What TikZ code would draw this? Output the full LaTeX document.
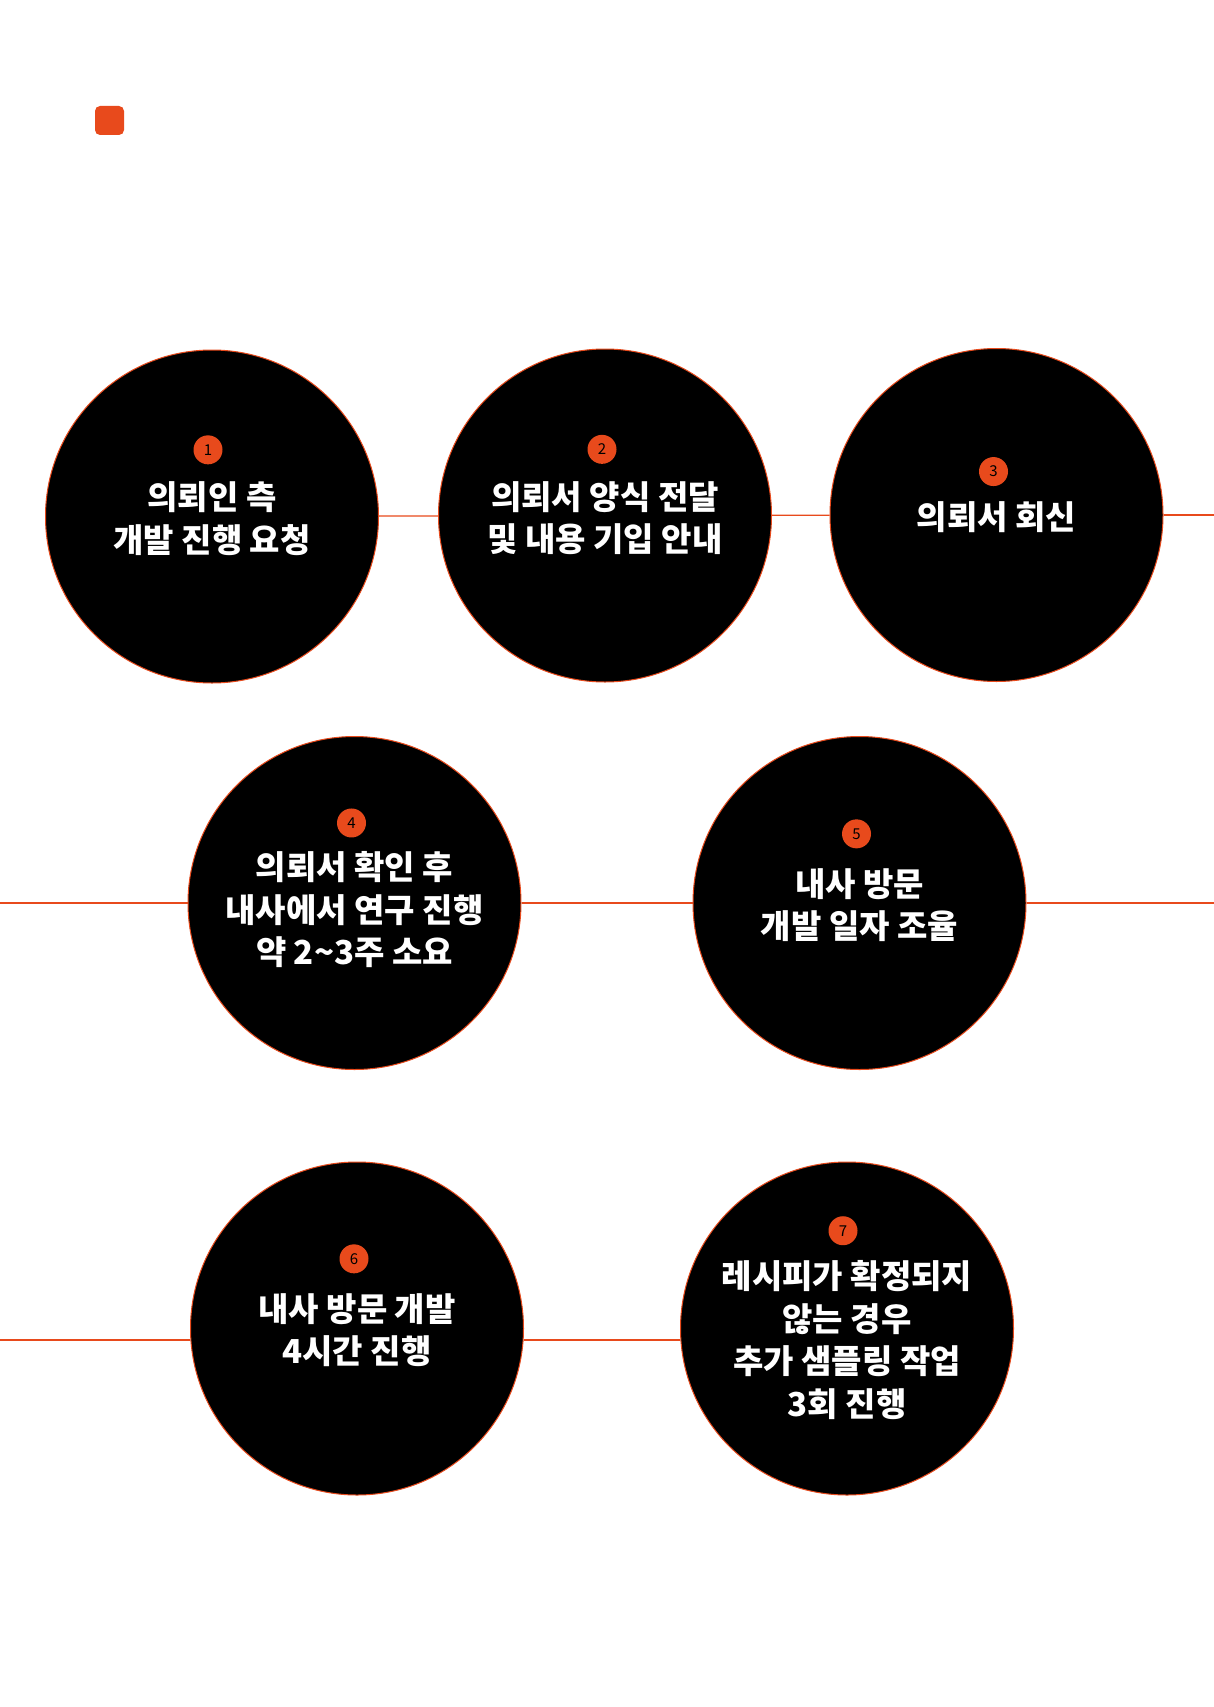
\documentclass[tikz,border=0pt]{standalone}
\usepackage{fontspec}
\newfontfamily\kr{Noto Sans CJK KR}
\usepackage{tikz}
\usetikzlibrary{positioning}
\definecolor{Flame}{HTML}{E84A1C}

\begin{document}
\begin{tikzpicture}[x=1pt,y=-1pt,
  stepdot/.style={circle,draw=Flame,line width=1pt,fill=black,minimum size=333pt,inner sep=0pt},
  steptext/.style={align=center,text=white,inner sep=0pt,font=\kr\bfseries\fontsize{33}{42.5}\selectfont},
  badge/.style={circle,fill=Flame,minimum size=29pt,inner sep=0pt,text=black,font=\kr\fontsize{15}{15}\selectfont},
  tag/.style={fill=Flame,rounded corners=5pt,minimum size=29pt,inner sep=0pt},
  link/.style={draw=Flame,line width=1.2pt}
]
\fill[white] (0,0) rectangle (1214,1707);
\useasboundingbox (0,0) rectangle (1214,1707);
\node[tag] (logo) at (109.5,120.5) {};
% row 1
\node[stepdot] (c1) at (212,516.5) {};
\node[stepdot] (c2) at (605,515.5) {};
\node[stepdot] (c3) at (996.5,515) {};
\node[steptext] (t1) at (212,518.5) {의뢰인 측\\개발 진행 요청};
\node[steptext] (t2) at (605,518) {의뢰서 양식 전달\\및 내용 기입 안내};
\node[steptext] (t3) at (996.5,517) {의뢰서 회신};
\node[badge,above=17pt of t1,xshift=-4pt] (n1) {1};
\node[badge,above=17pt of t2,xshift=-3pt] (n2) {2};
\node[badge,above=15pt of t3,xshift=-3pt] (n3) {3};
\coordinate (r1) at (1214,515);
\draw[link] (c1) -- (c2);
\draw[link] (c2) -- (c3);
\draw[link] (c3) -- (r1);
% row 2
\node[stepdot] (c4) at (354.5,903) {};
\node[stepdot] (c5) at (859.5,903) {};
\node[steptext] (t4) at (354.5,910) {의뢰서 확인 후\\내사에서 연구 진행\\약 2\textasciitilde3주 소요};
\node[steptext] (t5) at (859.5,905) {내사 방문\\개발 일자 조율};
\node[badge,above=14pt of t4,xshift=-3pt] (n4) {4};
\node[badge,above=19.5pt of t5,xshift=-3pt] (n5) {5};
\coordinate (l2) at (0,903);
\coordinate (r2) at (1214,903);
\draw[link] (l2) -- (c4);
\draw[link] (c4) -- (c5);
\draw[link] (c5) -- (r2);
% row 3
\node[stepdot] (c6) at (357,1328.5) {};
\node[stepdot] (c7) at (847,1328.5) {};
\node[steptext] (t6) at (357,1330) {내사 방문 개발\\4시간 진행};
\node[steptext] (t7) at (847,1340) {레시피가 확정되지\\않는 경우\\추가 샘플링 작업\\3회 진행};
\node[badge,above=19.5pt of t6,xshift=-3pt] (n6) {6};
\node[badge,above=15pt of t7,xshift=-4pt] (n7) {7};
\coordinate (l3) at (0,1340);
\draw[link] (l3) -- ([yshift=-11.5pt]c6.west);
\draw[link] ([yshift=-11.5pt]c6.east) -- ([yshift=-11.5pt]c7.west);
\end{tikzpicture}
\end{document}
